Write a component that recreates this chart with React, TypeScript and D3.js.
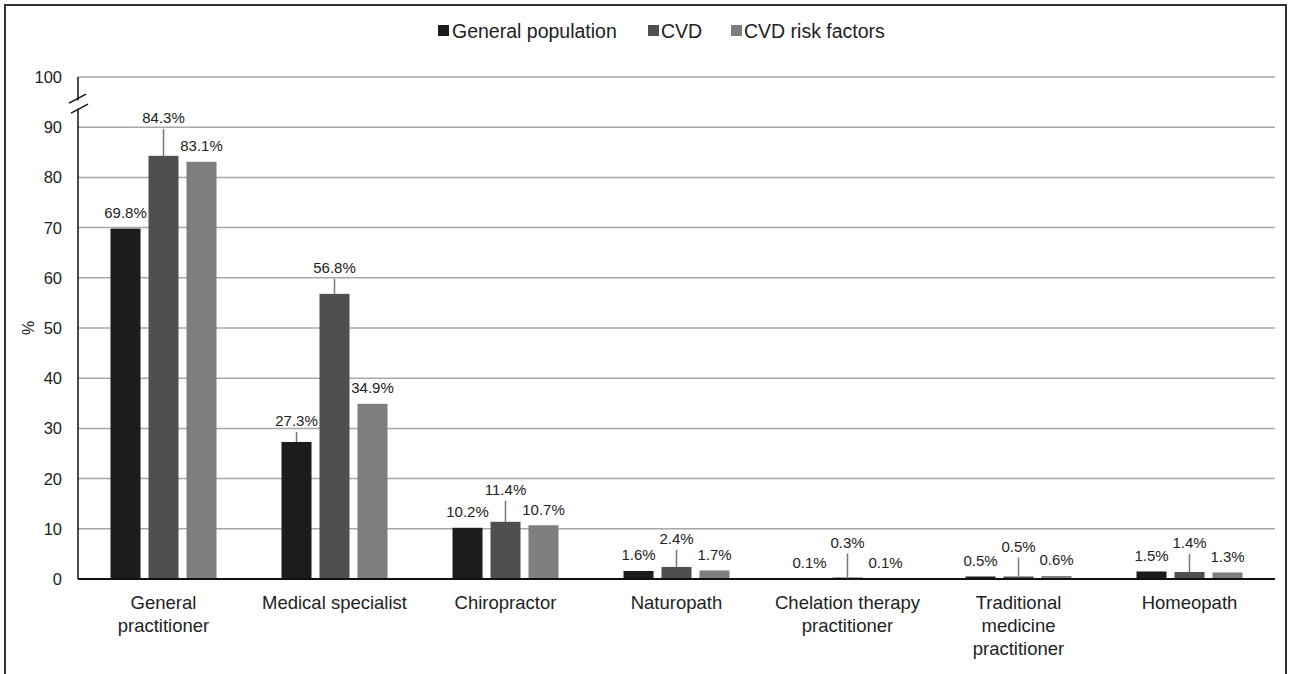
import React from "react";
import * as d3 from "d3";

const categories = [
  "General\npractitioner",
  "Medical specialist",
  "Chiropractor",
  "Naturopath",
  "Chelation therapy\npractitioner",
  "Traditional\nmedicine\npractitioner",
  "Homeopath",
];
const seriesNames = ["General population", "CVD", "CVD risk factors"];
const generalPopulation = [69.8, 27.3, 10.2, 1.6, 0.1, 0.5, 1.5];
const cvd = [84.3, 56.8, 11.4, 2.4, 0.3, 0.5, 1.4];
const cvdRiskFactors = [83.1, 34.9, 10.7, 1.7, 0.1, 0.6, 1.3];
const yTicks = [0, 10, 20, 30, 40, 50, 60, 70, 80, 90, 100];

// layout: pixel lift of labels that use a leader line (0 = default placement)
const liftGeneral = [0, 21, 0, 0, 0, 0, 0];
const liftCvd = [38, 26, 32, 28, 35, 30, 29];
const liftRisk = [0, 0, 0, 0, 0, 0, 0];

const colors = ["#1c1c1c", "#4f4f4f", "#7e7e7e"];
const FONT = "'Liberation Sans', Arial, sans-serif";

export default function App() {
  const W = 1292, H = 674;
  const left = 78, right = 1275, top = 77, bottom = 579;
  const values = [generalPopulation, cvd, cvdRiskFactors];
  const lifts = [liftGeneral, liftCvd, liftRisk];

  const x0 = d3.scaleBand<string>().domain(categories).range([left, right]).padding(0);
  const x1 = d3.scaleBand<string>().domain(seriesNames).range([-53, 53]).paddingInner(0.21).paddingOuter(0);
  const y = d3.scaleLinear().domain([0, 100]).range([bottom, top]);

  const bars: React.ReactNode[] = [];
  const labels: React.ReactNode[] = [];
  categories.forEach((c, ci) => {
    const cx = (x0(c) as number) + x0.bandwidth() / 2;
    seriesNames.forEach((s, si) => {
      const v = values[si][ci];
      const bx = cx + (x1(s) as number);
      const bw = x1.bandwidth();
      const yt = y(v);
      bars.push(
        <rect key={`b${ci}-${si}`} x={bx} y={yt} width={bw} height={bottom - yt} fill={colors[si]} />
      );
      const lift = lifts[si][ci];
      const mid = bx + bw / 2;
      if (lift > 0) {
        const ly = yt - lift;
        labels.push(
          <line key={`l${ci}-${si}`} x1={mid} x2={mid} y1={ly + 11} y2={yt} stroke="#777" strokeWidth={1.5} />
        );
        labels.push(
          <text key={`t${ci}-${si}`} x={mid} y={ly + 5.3} textAnchor="middle" fontSize={15} fill="#222" fontFamily={FONT}>
            {v.toFixed(1)}%
          </text>
        );
      } else {
        labels.push(
          <text key={`t${ci}-${si}`} x={mid} y={yt - 16 + 5.3} textAnchor="middle" fontSize={15} fill="#222" fontFamily={FONT}>
            {v.toFixed(1)}%
          </text>
        );
      }
    });
  });

  // legend layout
  const legendItems = [
    { name: seriesNames[0], sx: 438, tx: 452 },
    { name: seriesNames[1], sx: 648, tx: 661 },
    { name: seriesNames[2], sx: 731, tx: 744 },
  ];

  return (
    <div style={{ position: "absolute", left: 0, top: 0 }}>
      <svg width={W} height={H} style={{ display: "block", background: "#fff" }}>
        <rect x={5} y={5} width={1281} height={720} fill="#fff" stroke="#333" strokeWidth={2} />
        {/* legend */}
        {legendItems.map((it, i) => (
          <g key={it.name}>
            <rect x={it.sx} y={25} width={11} height={11} fill={colors[i]} />
            <text x={it.tx} y={37.5} fontSize={19.5} fill="#222" fontFamily={FONT}>{it.name}</text>
          </g>
        ))}
        {/* grid */}
        {yTicks.filter((t) => t > 0).map((t) => (
          <line key={`g${t}`} x1={left} x2={right} y1={y(t)} y2={y(t)} stroke="#a8a8a8" strokeWidth={1.5} />
        ))}
        {/* y tick labels */}
        {yTicks.map((t) => (
          <text key={`yt${t}`} x={62} y={y(t) + 6} textAnchor="end" fontSize={16.5} fill="#222" fontFamily={FONT}>
            {t}
          </text>
        ))}
        <text transform={`translate(34,${(top + bottom) / 2}) rotate(-90)`} textAnchor="middle" fontSize={16} fill="#222" fontFamily={FONT}>%</text>
        {bars}
        {labels}
        {/* y axis */}
        <line x1={left} x2={left} y1={top} y2={bottom} stroke="#111" strokeWidth={1.5} />
        {/* axis break */}
        <polygon points={`${left - 9},${y(94.4)} ${left + 9},${y(96.2)} ${left + 9},${y(94.6)} ${left - 9},${y(92.8)}`} fill="#fff" />
        <line x1={left - 9} x2={left + 8} y1={y(94.8)} y2={y(96.6)} stroke="#111" strokeWidth={1.5} />
        <line x1={left - 7} x2={left + 10} y1={y(92.8)} y2={y(94.6)} stroke="#111" strokeWidth={1.5} />
        {/* baseline */}
        <line x1={left} x2={right} y1={bottom} y2={bottom} stroke="#111" strokeWidth={2} />
        {/* category labels */}
        {categories.map((c) => {
          const cx = (x0(c) as number) + x0.bandwidth() / 2;
          return (
            <text key={`c${c}`} x={cx} y={609} textAnchor="middle" fontSize={18.5} fill="#222" fontFamily={FONT}>
              {c.split("\n").map((line, i) => (
                <tspan key={i} x={cx} dy={i === 0 ? 0 : 23}>{line}</tspan>
              ))}
            </text>
          );
        })}
      </svg>
    </div>
  );
}
